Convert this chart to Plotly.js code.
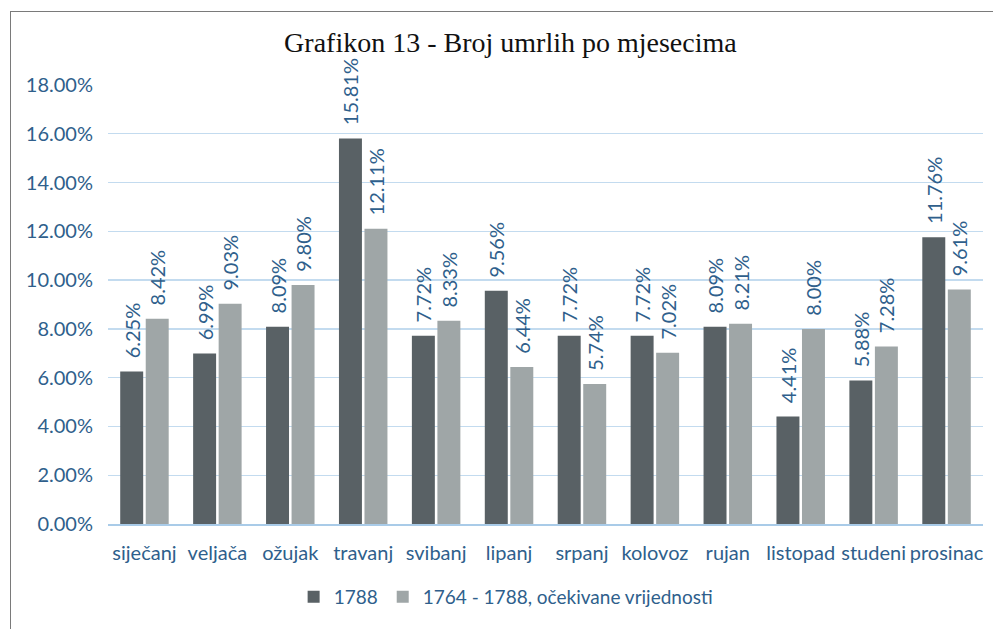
<!DOCTYPE html>
<html>
<head>
<meta charset="utf-8">
<script src="https://cdn.plot.ly/plotly-3.0.1.min.js"></script>
<style>
html,body{margin:0;padding:0;background:#fff;}
#chart{width:993px;height:629px;position:absolute;left:0;top:0;}
#frame{position:absolute;left:10px;top:11px;width:990px;height:640px;border-left:1.5px solid #7a7a7a;border-top:1.5px solid #7a7a7a;pointer-events:none;}
</style>
</head>
<body>
<div id="chart"></div>
<div id="frame"></div>
<script>
const months = ["siječanj","veljača","ožujak","travanj","svibanj","lipanj","srpanj","kolovoz","rujan","listopad","studeni","prosinac"];
const series1Name = "1788";
const series1 = [6.25, 6.99, 8.09, 15.81, 7.72, 9.56, 7.72, 7.72, 8.09, 4.41, 5.88, 11.76];
const series2Name = "1764 - 1788, očekivane vrijednosti";
const series2 = [8.42, 9.03, 9.80, 12.11, 8.33, 6.44, 5.74, 7.02, 8.21, 8.00, 7.28, 9.61];
const yTicks = [0, 2, 4, 6, 8, 10, 12, 14, 16, 18];
const yTickText = yTicks.map(v => v.toFixed(2) + "%");

const blue = "#2f5f8c";
const labelFont = {family: "Lato, 'Open Sans', sans-serif", size: 20, color: blue};
const legendFont = {family: "Lato, 'Open Sans', sans-serif", size: 19, color: blue};

function barTrace(name, vals, color) {
  return {
    type: "bar", name: name, x: months, y: vals,
    marker: {color: color, line: {width: 0}},
    texttemplate: "\u00a0\u00a0%{y:.2f}%", textposition: "outside", textangle: -90,
    textfont: labelFont, cliponaxis: false, constraintext: "none",
    hoverinfo: "x+y"
  };
}

const data = [
  barTrace(series1Name, series1, "#596165"),
  barTrace(series2Name, series2, "#9fa6a7")
];

const layout = {
  width: 993, height: 629,
  margin: {l: 108, r: 10, t: 85, b: 105},
  paper_bgcolor: "#ffffff", plot_bgcolor: "#ffffff",
  title: {text: "Grafikon 13 - Broj umrlih po mjesecima",
          font: {family: "'Liberation Serif', 'DejaVu Serif', serif", size: 28, color: "#111"},
          x: 0.514, xanchor: "center", xref: "container", y: 0.933, yanchor: "middle"},
  barmode: "group", bargap: 0.3, bargroupgap: 0.1,
  xaxis: {tickfont: labelFont, showline: true, linecolor: "#a9cbe8", linewidth: 1.5,
          ticks: "", showgrid: false, ticklabelstandoff: 10},
  yaxis: {range: [0, 18], tickvals: yTicks, ticktext: yTickText,
          tickfont: labelFont, gridcolor: "#c3dbef", gridwidth: 1.3,
          zeroline: false, showline: false, ticklabelstandoff: 14},
  showlegend: true,
  legend: {orientation: "h", x: 0.455, xanchor: "center", y: -0.166, yanchor: "middle",
           font: legendFont, itemwidth: 30, traceorder: "normal"}
};

Plotly.newPlot("chart", data, layout, {displayModeBar: false, staticPlot: true});
</script>
</body>
</html>
